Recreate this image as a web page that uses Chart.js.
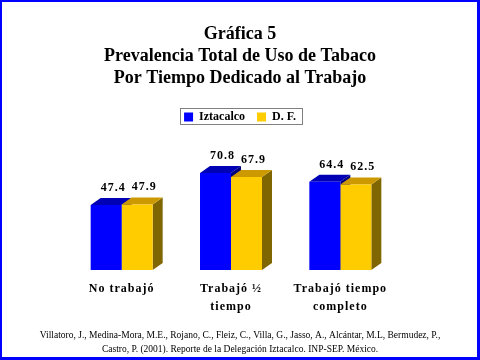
<!DOCTYPE html>
<html><head><meta charset="utf-8">
<script src="https://cdn.jsdelivr.net/npm/chart.js@4/dist/chart.umd.min.js"></script>
<style>html,body{margin:0;padding:0;background:#fff;overflow:hidden}#wrap{width:480px;height:360px}</style>
</head><body><div id="wrap"><canvas id="c" width="480" height="360"></canvas></div>
<script>
const categories = [["No trabajó"], ["Trabajó ½", "tiempo"], ["Trabajó tiempo", "completo"]];
const seriesNames = ["Iztacalco", "D. F."];
const iztacalco = [47.4, 70.8, 64.4];
const df = [47.9, 67.9, 62.5];
const titleLines = ["Gráfica 5", "Prevalencia Total de Uso de Tabaco", "Por Tiempo Dedicado al Trabajo"];
const footnoteLines = [
  "Villatoro, J., Medina-Mora, M.E., Rojano, C., Fleiz, C., Villa, G., Jasso, A., Alcántar, M.L, Bermudez, P.,",
  "Castro, P. (2001). Reporte de la Delegación Iztacalco. INP-SEP. México."
];
const frontColors = ["#0000FF", "#FFCC00"];
const topColors = ["#0000B4", "#CC9A00"];
const sideColors = ["#00007A", "#806600"];
const DX = 10, DY = 7;
const SERIF = "'Liberation Serif', 'Times New Roman', serif";

const threeD = {
  id: 'threeD',
  beforeDatasetsDraw(chart) {
    const ctx = chart.ctx;
    ctx.save();
    chart.data.datasets.forEach((ds, i) => {
      const meta = chart.getDatasetMeta(i);
      meta.data.forEach(el => {
        const p = el.getProps(['x', 'y', 'base', 'width'], true);
        const l = p.x - p.width / 2, r = p.x + p.width / 2;
        ctx.fillStyle = sideColors[i];
        ctx.beginPath();
        ctx.moveTo(r, p.y); ctx.lineTo(r + DX, p.y - DY); ctx.lineTo(r + DX, p.base - DY); ctx.lineTo(r, p.base);
        ctx.closePath(); ctx.fill();
        ctx.fillStyle = topColors[i];
        ctx.beginPath();
        ctx.moveTo(l, p.y); ctx.lineTo(l + DX, p.y - DY); ctx.lineTo(r + DX, p.y - DY); ctx.lineTo(r, p.y);
        ctx.closePath(); ctx.fill();
      });
    });
    ctx.restore();
  },
  afterDatasetsDraw(chart) {
    const ctx = chart.ctx;
    ctx.save();
    ctx.letterSpacing = '1px';
    ctx.fillStyle = '#000';
    ctx.textAlign = 'center';
    ctx.textBaseline = 'middle';
    ctx.font = "bold 12px " + SERIF;
    chart.data.datasets.forEach((ds, i) => {
      const meta = chart.getDatasetMeta(i);
      meta.data.forEach((el, j) => {
        const p = el.getProps(['x', 'y'], true);
        ctx.fillText(ds.data[j].toFixed(1), p.x + 7, p.y - DY - 10);
      });
    });
    const xs = chart.scales.x;
    const bottom = chart.chartArea.bottom;
    categories.forEach((lines, i) => {
      const cx = xs.getPixelForValue(i);
      lines.forEach((t, k) => ctx.fillText(t, cx, bottom + 19 + k * 18));
    });
    ctx.restore();
  },
  afterDraw(chart) {
    const ctx = chart.ctx;
    ctx.save();
    const lg = chart.legend;
    if (lg && lg.legendHitBoxes && lg.legendHitBoxes.length) {
      let l = Infinity, t = Infinity, r = -Infinity, b = -Infinity;
      lg.legendHitBoxes.forEach(h => { l = Math.min(l, h.left); t = Math.min(t, h.top); r = Math.max(r, h.left + h.width); b = Math.max(b, h.top + h.height); });
      ctx.strokeStyle = '#808080';
      ctx.lineWidth = 1;
      ctx.strokeRect(Math.round(l) - 3.5, Math.round(t) - 2.5, Math.round(r - l) + 10, Math.round(b - t) + 4);
    }
    ctx.fillStyle = '#0000FF';
    ctx.fillRect(0, 0, 480, 2);
    ctx.fillRect(0, 0, 2, 360);
    ctx.fillRect(477, 0, 3, 360);
    ctx.fillRect(0, 357, 480, 3);
    ctx.restore();
  }
};

new Chart(document.getElementById('c'), {
  type: 'bar',
  data: {
    labels: categories,
    datasets: [
      { label: seriesNames[0], data: iztacalco, backgroundColor: frontColors[0], borderWidth: 0 },
      { label: seriesNames[1], data: df, backgroundColor: frontColors[1], borderWidth: 0 }
    ]
  },
  options: {
    responsive: false,
    animation: false,
    devicePixelRatio: 1,
    layout: { padding: { top: 23, bottom: 4, left: 0, right: 0 } },
    datasets: { bar: { barPercentage: 1, categoryPercentage: 0.567 } },
    scales: {
      x: {
        display: true,
        grid: { display: false }, border: { display: false }, ticks: { display: false },
        afterFit(s) { s.height = 58; }
      },
      y: {
        display: true, min: 0, max: 100,
        grid: { display: false }, border: { display: false }, ticks: { display: false },
        afterFit(s) { s.width = 67; }
      },
      y2: {
        type: 'linear', position: 'right', display: true, min: 0, max: 100,
        grid: { display: false }, border: { display: false }, ticks: { display: false },
        afterFit(s) { s.width = 85; }
      }
    },
    plugins: {
      title: {
        display: true, text: titleLines, color: '#000',
        font: { family: SERIF, size: 18, weight: 'bold', lineHeight: 22 / 18 },
        padding: { top: 0, bottom: 10 }
      },
      legend: {
        display: true, position: 'top',
        labels: {
          color: '#000', boxWidth: 9, boxHeight: 9, padding: 12,
          font: { family: SERIF, size: 12, weight: 'bold' }
        }
      },
      subtitle: {
        display: true, position: 'bottom', text: footnoteLines, color: '#000',
        font: { family: SERIF, size: 9.5, lineHeight: 14 / 9.5 },
        padding: { top: 0, bottom: 0 }
      },
      tooltip: { enabled: false }
    }
  },
  plugins: [threeD]
});
</script>
</body></html>
